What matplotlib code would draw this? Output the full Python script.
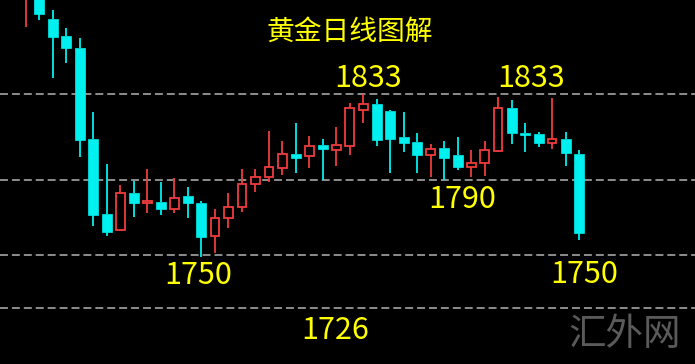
import matplotlib
matplotlib.use("Agg")
import matplotlib.pyplot as plt
import numpy as np

# ---- data (prices) ----
opens  = [1884, 1890, 1870.5, 1862, 1856, 1810.5, 1773, 1765, 1783.5, 1778.5,
          1779, 1775.5, 1782, 1778.5, 1762, 1771, 1776.5, 1788, 1791.5, 1796,
          1803, 1802, 1807.5, 1805, 1807, 1825, 1828, 1824.5, 1811.5, 1809,
          1802.5, 1806, 1802.5, 1796.5, 1798.5, 1804.5, 1826, 1813.5, 1813, 1808.5,
          1810.5, 1803]
highs  = [1895, 1895, 1875, 1866, 1861, 1824, 1798, 1787.5, 1789.5, 1795.5,
          1789, 1791, 1786.5, 1779.5, 1775.5, 1783.5, 1795.5, 1795.5, 1814.5, 1809.5,
          1818.5, 1812, 1810.5, 1816.5, 1828.5, 1833, 1830.5, 1825, 1824, 1813.5,
          1808, 1809.5, 1811.5, 1805, 1809.5, 1831.5, 1830, 1818.5, 1814, 1831,
          1814, 1805]
lows   = [1866.5, 1870, 1841, 1848.5, 1801.5, 1767, 1762, 1764.5, 1771.5, 1773.5,
          1772.5, 1773.5, 1771, 1751.5, 1753.5, 1766, 1774, 1784, 1789, 1792.5,
          1793.5, 1796, 1790, 1797, 1802.5, 1818.5, 1807, 1793.5, 1804, 1793.5,
          1791.5, 1790, 1795, 1791.5, 1792, 1804, 1808, 1804, 1806.5, 1805.5,
          1797, 1760]
closes = [1890, 1873, 1861.5, 1856, 1810, 1772.5, 1764, 1783.5, 1778.5, 1779.5,
          1775.5, 1781, 1778.5, 1761.5, 1771, 1776.5, 1788, 1791.5, 1796.5, 1803,
          1801, 1807, 1805.5, 1807.5, 1826, 1828, 1810, 1810.5, 1808.5, 1802.5,
          1805.5, 1801, 1796.5, 1798.5, 1805, 1826, 1813.5, 1812.5, 1808.5, 1810.5,
          1803.5, 1763.5]

level_values = [1833, 1790, 1752.5, 1726]
title_text = "黄金日线图解"
label_texts = ["1833", "1833", "1790", "1750", "1726", "1750"]
label_pos_x = [25.35, 37.44, 32.3, 12.75, 22.9, 41.36]
label_pos_y = [1836.5, 1836.5, 1776, 1738, 1710.5, 1738.5]
watermark = "汇外网"

UP = "#F03C3C"
DOWN = "#00F0F0"

fig = plt.figure(figsize=(6.95, 3.64), dpi=100)
fig.patch.set_facecolor("black")
ax = fig.add_axes([0, 0, 1, 1])
ax.set_facecolor("black")
ax.set_xlim(-1.927, 49.59)
ax.set_ylim(1698, 1880)
ax.axis("off")

# dashed levels
for lv in level_values:
    ax.axhline(lv, color="#b4b4b4", lw=1.1, ls=(0, (5.2, 2.6)), zorder=1)

w = 0.74
x = np.arange(len(opens))
for i in x:
    o, h, l, c = opens[i], highs[i], lows[i], closes[i]
    up = c > o
    col = UP if up else DOWN
    top, bot = max(o, c), min(o, c)
    ax.vlines(i, top, h, color=col, lw=1.3, zorder=2)
    ax.vlines(i, l, bot, color=col, lw=1.3, zorder=2)
    if up:
        ax.bar(i, top - bot, bottom=bot, width=w - 0.1, facecolor="black",
               edgecolor=col, linewidth=1.3, zorder=3)
    else:
        ax.bar(i, max(top - bot, 0.6), bottom=bot, width=w, facecolor=col,
               edgecolor=col, linewidth=0.5, zorder=3)

cjk = ["Noto Sans CJK SC", "DejaVu Sans"]
ax.text(24.0, 1860, title_text, color="#FFFF00", fontsize=20, family=cjk,
        ha="center", va="baseline", zorder=5)
for t, tx, ty in zip(label_texts, label_pos_x, label_pos_y):
    ax.text(tx, ty, t, color="#FFFF00", fontsize=22, family=cjk,
            ha="center", va="baseline", zorder=5)
ax.text(44.4, 1713, watermark, color="#5a5a5a", fontsize=27, family=cjk,
        fontweight="light", ha="center", va="center", zorder=5)

fig.savefig("out.png", dpi=100, facecolor="black")
